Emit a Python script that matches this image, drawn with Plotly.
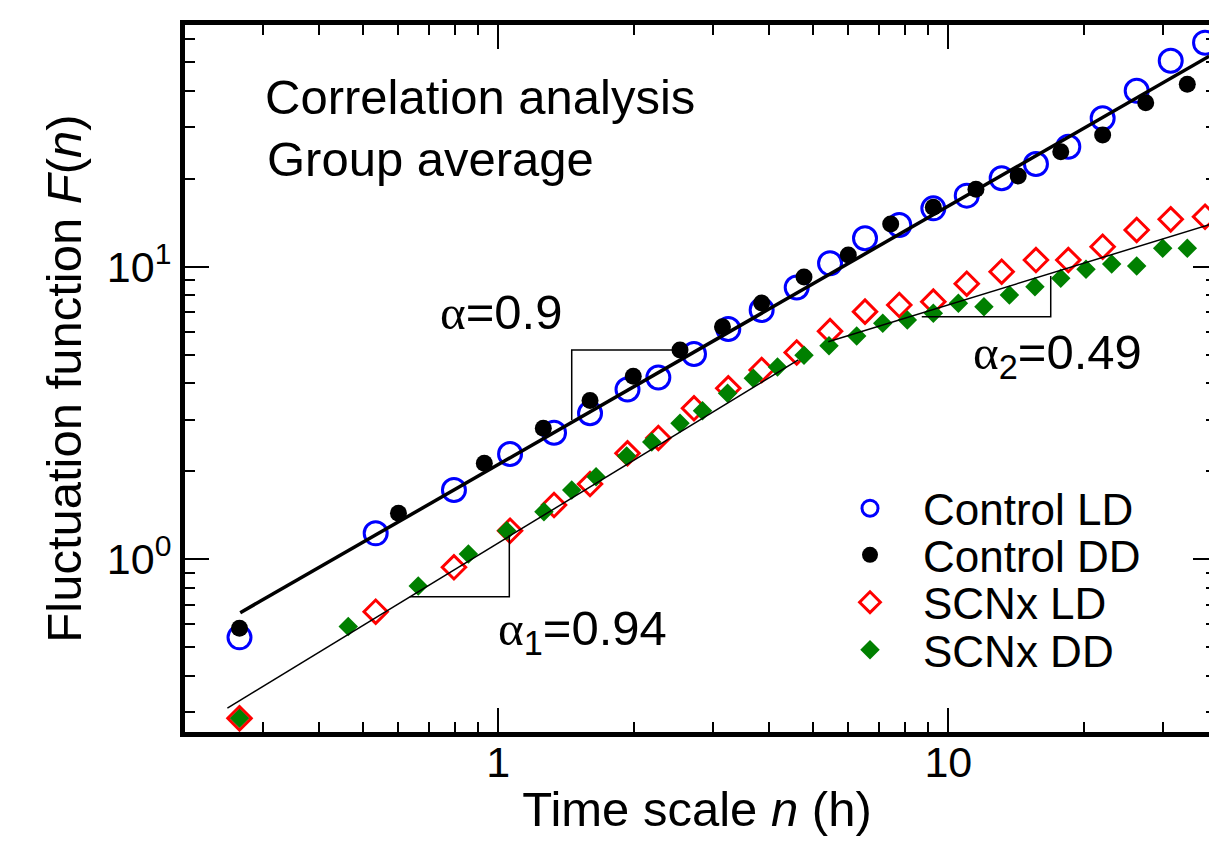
import plotly.graph_objects as go

# ---------------- data ----------------
n_ld = [0.266, 0.534, 0.797, 1.062, 1.330, 1.599, 1.937, 2.268, 2.722, 3.244, 3.848, 4.604,
        5.460, 6.530, 7.782, 9.262, 10.99, 13.14, 15.66, 18.48, 22.03, 26.22, 31.21, 37.20]
f_control_ld = [0.541, 1.227, 1.725, 2.290, 2.708, 3.155, 3.804, 4.181, 5.030, 6.124, 7.112, 8.489,
                10.27, 12.51, 13.88, 15.83, 17.49, 20.05, 22.44, 25.71, 32.15, 39.95, 50.58, 58.29]
f_scnx_ld = [0.286, 0.662, 0.939, 1.252, 1.533, 1.808, 2.303, 2.598, 3.282, 3.841, 4.436, 5.091,
             6.020, 7.019, 7.398, 7.593, 8.748, 9.614, 10.54, 10.54, 11.70, 13.35, 14.52, 14.82]

n_control_dd = [0.266, 0.600, 0.931, 1.259, 1.599, 1.995, 2.534, 3.149, 3.848, 4.779, 5.995, 7.447,
                9.262, 11.52, 14.30, 17.78, 22.03, 27.46, 33.97]
f_control_dd = [0.581, 1.436, 2.129, 2.804, 3.489, 4.221, 5.192, 6.235, 7.515, 9.223, 10.96, 13.99,
                15.96, 18.39, 20.42, 24.72, 28.19, 36.35, 42.02]

n_scnx_dd = [0.266, 0.464, 0.664, 0.858, 1.044, 1.263, 1.456, 1.649, 1.929, 2.193, 2.534, 2.843,
             3.232, 3.687, 4.173, 4.779, 5.432, 6.258, 7.150, 8.109, 9.262, 10.53, 12.00, 13.67,
             15.58, 17.78, 20.23, 23.07, 26.22, 29.95, 33.97]
f_scnx_dd = [0.286, 0.589, 0.810, 1.042, 1.252, 1.454, 1.725, 1.916, 2.254, 2.517, 2.916, 3.218,
             3.693, 4.156, 4.542, 4.980, 5.366, 5.798, 6.407, 6.575, 6.930, 7.497, 7.299, 8.004,
             8.543, 9.127, 9.797, 10.21, 10.06, 11.56, 11.56]

# power-law fits (end points)
fit_control_n = [0.267, 38.0]
fit_control_f = [0.657, 52.4]
fit_scnx1_n = [0.25, 4.64]
fit_scnx1_f = [0.31, 4.80]
fit_scnx2_n = [5.41, 38.0]
fit_scnx2_f = [5.54, 13.92]

# slope triangles
tri_a_n = [2.60, 1.456, 1.456]
tri_a_f = [5.19, 5.19, 2.99]
tri_a1_n = [0.636, 1.058, 1.058]
tri_a1_f = [0.745, 0.745, 1.21]
tri_a2_n = [8.73, 16.89, 16.89]
tri_a2_f = [6.75, 6.75, 9.29]

x_major = [1, 10]
x_major_text = ["1", "10"]
x_minor = [0.3, 0.4, 0.5, 0.6, 0.7, 0.8, 0.9, 2, 3, 4, 5, 6, 7, 8, 9, 20, 30]
y_major = [1, 10]
y_major_text = ["10<sup>0</sup>", "10<sup>1</sup>"]
y_minor = [0.3, 0.4, 0.5, 0.6, 0.7, 0.8, 0.9, 2, 3, 4, 5, 6, 7, 8, 9, 20, 30, 40, 50, 60]

# ---------------- layout geometry ----------------
W, H = 1209, 845
L, T, R, B = 185, 25, 0, 113
PW, PH = W - L - R, H - T - B
X_RANGE = [-0.69622, 1.57933]
Y_RANGE = [-0.59022, 1.82604]
FONT = "Liberation Sans, Arial, sans-serif"


def pxx(x):
    return (x - L) / PW


def pxy(y):
    return (T + PH - y) / PH


fig = go.Figure()

fig.add_trace(go.Scatter(x=n_ld, y=f_control_ld, mode="markers", name="Control LD",
                         legend="legend",
                         marker=dict(symbol="circle-open", size=23, color="#0000ff",
                                     line=dict(width=3, color="#0000ff"))))
fig.add_trace(go.Scatter(x=n_ld, y=f_scnx_ld, mode="markers", name="SCNx LD",
                         legend="legend3",
                         marker=dict(symbol="diamond-open", size=18, color="#ff0000",
                                     line=dict(width=3, color="#ff0000"))))
fig.add_trace(go.Scatter(x=n_control_dd, y=f_control_dd, mode="markers", name="Control DD",
                         legend="legend2",
                         marker=dict(symbol="circle", size=17, color="#000000")))
fig.add_trace(go.Scatter(x=n_scnx_dd, y=f_scnx_dd, mode="markers", name="SCNx DD",
                         legend="legend4",
                         marker=dict(symbol="diamond", size=15, color="#008000")))

fig.add_trace(go.Scatter(x=fit_control_n, y=fit_control_f, mode="lines", showlegend=False,
                         line=dict(color="black", width=3.5), hoverinfo="skip"))
fig.add_trace(go.Scatter(x=fit_scnx1_n, y=fit_scnx1_f, mode="lines", showlegend=False,
                         line=dict(color="black", width=1.5), hoverinfo="skip"))
fig.add_trace(go.Scatter(x=fit_scnx2_n, y=fit_scnx2_f, mode="lines", showlegend=False,
                         yaxis="y2",
                         line=dict(color="black", width=1.5), hoverinfo="skip"))
for tn, tf in [(tri_a_n, tri_a_f), (tri_a1_n, tri_a1_f), (tri_a2_n, tri_a2_f)]:
    fig.add_trace(go.Scatter(x=tn, y=tf, mode="lines", showlegend=False,
                             line=dict(color="black", width=1.5), hoverinfo="skip"))

tickfont = dict(family=FONT, size=43, color="black")
titlefont = dict(family=FONT, size=49, color="black")

fig.update_layout(
    width=W, height=H,
    margin=dict(l=L, r=R, t=T, b=B, pad=0),
    paper_bgcolor="white", plot_bgcolor="white",
    font=dict(family=FONT, color="black"),
    xaxis=dict(type="log", range=X_RANGE, showgrid=False, zeroline=False,
               showline=True, linewidth=5, linecolor="black", mirror="ticks",
               ticks="inside", ticklen=24, tickwidth=2, tickcolor="black",
               tickmode="array", tickvals=x_major, ticktext=x_major_text,
               tickfont=tickfont, ticklabelstandoff=-12,
               minor=dict(tickmode="array", tickvals=x_minor, ticks="inside",
                          ticklen=10, tickwidth=2, tickcolor="black", showgrid=False),
               title=dict(text="Time scale <i>n</i> (h)", font=titlefont, standoff=9)),
    yaxis=dict(type="log", range=Y_RANGE, showgrid=False, zeroline=False,
               showline=True, linewidth=5, linecolor="black", mirror=False,
               ticks="inside", ticklen=24, tickwidth=2, tickcolor="black",
               tickmode="array", tickvals=y_major, ticktext=y_major_text,
               tickfont=tickfont,
               minor=dict(tickmode="array", tickvals=y_minor, ticks="inside",
                          ticklen=10, tickwidth=2, tickcolor="black", showgrid=False),
               title=dict(text="Fluctuation function <i>F</i>(<i>n</i>)", font=titlefont,
                          standoff=11)),
    yaxis2=dict(type="log", range=Y_RANGE, overlaying="y", side="right", anchor="x",
                showgrid=False, zeroline=False, showline=False, showticklabels=False,
                ticks="inside", ticklen=16, tickwidth=2, tickcolor="black",
                tickmode="array", tickvals=y_major,
                minor=dict(tickmode="array", tickvals=y_minor, ticks="inside",
                           ticklen=3, tickwidth=2, tickcolor="black", showgrid=False)),
    showlegend=True,
)

legend_common = dict(xanchor="left", yanchor="top", x=pxx(817), bgcolor="rgba(0,0,0,0)",
                     borderwidth=0, itemwidth=96, tracegroupgap=0,
                     font=dict(family=FONT, size=44, color="black"))
fig.update_layout(
    legend=dict(legend_common, y=pxy(506.7 - 33.6)),
    legend2=dict(legend_common, y=pxy(553.3 - 33.6)),
    legend3=dict(legend_common, y=pxy(600.7 - 33.6)),
    legend4=dict(legend_common, y=pxy(648.3 - 33.6)),
)

alpha = '<span style="font-family:Liberation Serif, Times New Roman, serif">\u03b1</span>'
ann_font = dict(family=FONT, size=49, color="black")
annotations = [
    ("Correlation analysis", 263, 97),
    ("Group average", 265, 159),
    (alpha + "=0.9", 438, 312),
    (alpha + "<sub>2</sub>=0.49", 971, 356),
    (alpha + "<sub>1</sub>=0.94", 496, 631),
]
for txt, ax_, ay_ in annotations:
    fig.add_annotation(text=txt, x=pxx(ax_), y=pxy(ay_), xref="paper", yref="paper",
                       xanchor="left", yanchor="middle", showarrow=False, font=ann_font)

fig.write_html("out.html", config={"displayModeBar": False},
               post_script="document.body.style.margin='0';")
